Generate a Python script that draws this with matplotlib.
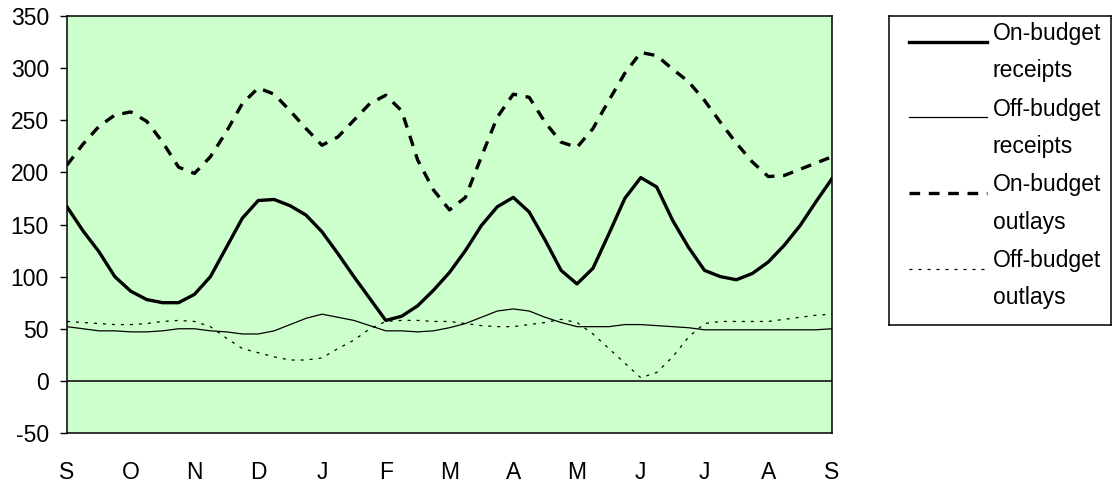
import numpy as np
import matplotlib
matplotlib.use("Agg")
import matplotlib.pyplot as plt
from matplotlib.lines import Line2D

plt.rcParams["font.family"] = ["Liberation Sans", "DejaVu Sans"]
plt.rcParams["axes.unicode_minus"] = False

months = ["S", "O", "N", "D", "J", "F", "M", "A", "M", "J", "J", "A", "S"]
# quarter-month steps from September to September
t = np.arange(49) / 4

on_receipts = [167, 144, 124, 100, 86, 78, 75, 75, 83, 100, 128, 156, 173,
               174, 168, 159, 143, 122, 100, 79, 58, 62, 72, 87, 104,
               125, 149, 167, 176, 162, 135, 106, 93, 108, 141, 175, 195,
               186, 154, 128, 106, 100, 97, 103, 114, 130, 149, 172, 194]
off_receipts = [52, 50, 48, 48, 47, 47, 48, 50, 50, 48, 47, 45, 45,
                48, 54, 60, 64, 61, 58, 53, 48, 48, 47, 48, 51,
                55, 61, 67, 69, 67, 61, 56, 52, 52, 52, 54, 54,
                53, 52, 51, 49, 49, 49, 49, 49, 49, 49, 49, 50]
on_outlays = [207, 227, 244, 255, 258, 249, 229, 205, 199, 215, 239, 266, 281,
              275, 259, 242, 226, 234, 250, 266, 274, 259, 212, 183, 164,
              176, 215, 253, 275, 272, 248, 229, 224, 242, 269, 295, 315,
              312, 299, 287, 269, 248, 228, 210, 196, 197, 203, 209, 215]
off_outlays = [57, 56, 55, 54, 54, 55, 57, 58, 57, 52, 41, 31, 27,
               23, 20, 20, 22, 31, 39, 50, 57, 58, 58, 57, 57,
               55, 53, 52, 52, 54, 56, 59, 56, 45, 31, 17, 3,
               8, 23, 42, 55, 57, 57, 57, 57, 59, 61, 63, 64]

labels = ["On-budget\nreceipts", "Off-budget\nreceipts",
          "On-budget\noutlays", "Off-budget\noutlays"]
styles = [dict(lw=2.4, ls="-"),
          dict(lw=0.9, ls="-"),
          dict(lw=2.4, ls=(0, (3.2, 2.6))),
          dict(lw=0.9, ls=(0, (2.4, 4.8)))]
series = [on_receipts, off_receipts, on_outlays, off_outlays]

fig = plt.figure(figsize=(11.12, 4.84), dpi=100)
ax = fig.add_axes([67 / 1112, 51 / 484, 765 / 1112, 417 / 484])
ax.set_facecolor("#CCFFCC")

ax.axhline(0, color="black", lw=1.1)
for vals, st in zip(series, styles):
    ax.plot(t, vals, color="black", solid_joinstyle="round",
            dash_joinstyle="round", **st)

ax.set_xlim(0, 12)
ax.set_ylim(-50, 350)
ax.set_yticks(range(-50, 351, 50))
ax.set_xticks(range(13))
ax.set_xticklabels(months)
ax.tick_params(axis="y", length=5, width=1, pad=8, labelsize=16.5)
ax.tick_params(axis="x", length=0, pad=20, labelsize=16.5)
for s in ax.spines.values():
    s.set_linewidth(1.1)

# legend box (drawn by hand so the handle sits at the first text line)
lax = fig.add_axes([889 / 1112, (484 - 325) / 484, 222 / 1112, 309 / 484])
lax.set_xlim(889, 1111)
lax.set_ylim(325, 16)
lax.set_xticks([])
lax.set_yticks([])
for s in lax.spines.values():
    s.set_linewidth(1.1)
for i, (lab, st) in enumerate(zip(labels, styles)):
    y = 42 + i * 75.5
    lax.add_line(Line2D([909, 987], [y, y], color="black", **st))
    first, second = lab.split("\n")
    lax.text(993, y - 8, first, fontsize=16.5, va="center", ha="left")
    lax.text(993, y + 29, second, fontsize=16.5, va="center", ha="left")

fig.savefig("out.png", dpi=100)
